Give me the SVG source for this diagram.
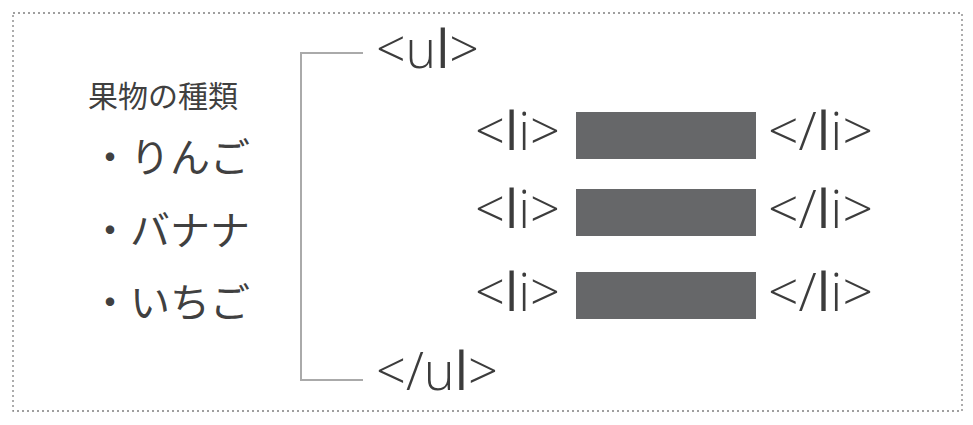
<svg xmlns="http://www.w3.org/2000/svg" width="973" height="425" viewBox="0 0 973 425">
<style>
.tag{font-family:"Open Sans","Noto Sans",sans-serif;font-size:53px;font-weight:300;fill:#3c3c3c}
.l{font-weight:500}
.jp{font-family:"Noto Sans CJK JP",sans-serif;fill:#404040}
.bar{fill:#666769}
</style>
<rect x="0" y="0" width="973" height="425" fill="#ffffff"/>
<rect x="13" y="13" width="949" height="398" fill="none" stroke="#808080" stroke-width="1.3" stroke-dasharray="2 3"/>
<g id="title"><text class="jp" x="88" y="107" font-size="30">果物の種類</text></g>
<g id="list">
<text class="jp" x="90" y="172" font-size="40">・りんご</text>
<text class="jp" x="90" y="245" font-size="40">・バナナ</text>
<text class="jp" x="90" y="317" font-size="40">・いちご</text>
</g>
<g id="connectors"><polyline points="363,53 301,53 301,380 363,380" fill="none" stroke="#aaaaaa" stroke-width="2"/></g>
<g id="ul-open"><text class="tag" x="376" y="68" textLength="103" lengthAdjust="spacingAndGlyphs">&lt;u<tspan class="l">l</tspan>&gt;</text></g>
<g id="li1"><text class="tag" x="475" y="150" textLength="85" lengthAdjust="spacingAndGlyphs">&lt;<tspan class="l">l</tspan>i&gt;</text><rect class="bar" x="576" y="112" width="180" height="47"/><text class="tag" x="768" y="150" textLength="105" lengthAdjust="spacingAndGlyphs">&lt;/<tspan class="l">l</tspan>i&gt;</text></g>
<g id="li2"><text class="tag" x="475" y="228" textLength="85" lengthAdjust="spacingAndGlyphs">&lt;<tspan class="l">l</tspan>i&gt;</text><rect class="bar" x="576" y="189" width="180" height="47"/><text class="tag" x="768" y="228" textLength="105" lengthAdjust="spacingAndGlyphs">&lt;/<tspan class="l">l</tspan>i&gt;</text></g>
<g id="li3"><text class="tag" x="475" y="311" textLength="85" lengthAdjust="spacingAndGlyphs">&lt;<tspan class="l">l</tspan>i&gt;</text><rect class="bar" x="576" y="272" width="180" height="47"/><text class="tag" x="768" y="311" textLength="105" lengthAdjust="spacingAndGlyphs">&lt;/<tspan class="l">l</tspan>i&gt;</text></g>
<g id="ul-close"><text class="tag" x="376" y="390" textLength="122" lengthAdjust="spacingAndGlyphs">&lt;/u<tspan class="l">l</tspan>&gt;</text></g>
</svg>
